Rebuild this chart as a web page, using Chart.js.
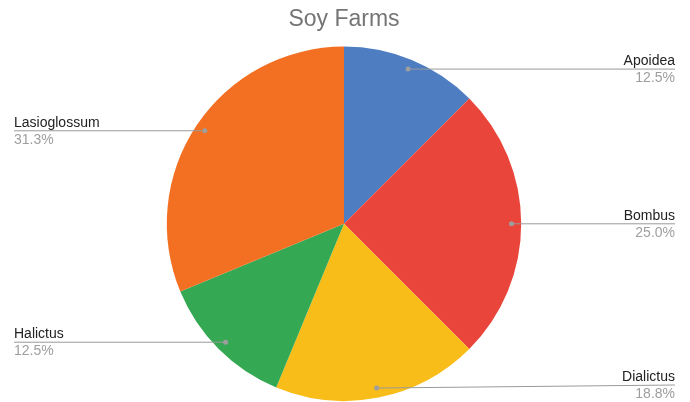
<!DOCTYPE html>
<html>
<head>
<meta charset="utf-8">
<script src="https://cdn.jsdelivr.net/npm/chart.js@4.4.1/dist/chart.umd.min.js"></script>
<style>
  html, body { margin: 0; padding: 0; background: #fff; }
  #wrap { width: 690px; height: 402px; }
</style>
</head>
<body>
<div id="wrap"><canvas id="myChart"></canvas></div>
<script>
const categories = ["Apoidea", "Bombus", "Dialictus", "Halictus", "Lasioglossum"];
const counts = [2, 4, 3, 2, 5];
const sliceColors = ["#4f7dc2", "#e9453a", "#f8bd19", "#34a853", "#f37023"];

let total = counts.reduce((a, b) => a + b, 0);

// leader lines + labels, google sheets style
let sideLabels = {
    id: "sideLabels",
    afterDatasetsDraw(chart) {
        let ctx = chart.ctx;
        let meta = chart.getDatasetMeta(0);
        let W = chart.width, H = chart.height;
        ctx.save();
        meta.data.forEach((arc, i) => {
            let p = arc.getProps(["x", "y", "startAngle", "endAngle", "outerRadius"], true);
            let mid = (p.startAngle + p.endAngle) / 2;
            let r = p.outerRadius * 0.945;
            let dx = p.x + Math.cos(mid) * r;
            let dy = p.y + Math.sin(mid) * r;
            let right = Math.cos(mid) >= 0;
            let endX = right ? 675 : 14;
            let endY = Math.min(dy, H - 17);

            ctx.strokeStyle = "#9a9a9a";
            ctx.lineWidth = 1;
            ctx.beginPath();
            ctx.moveTo(dx, dy);
            ctx.lineTo(endX, endY);
            ctx.stroke();

            ctx.fillStyle = "#9e9e9e";
            ctx.beginPath();
            ctx.arc(dx, dy, 2.5, 0, Math.PI * 2);
            ctx.fill();

            ctx.font = "14px 'Liberation Sans', Arial, sans-serif";
            ctx.textAlign = right ? "right" : "left";
            ctx.textBaseline = "alphabetic";
            ctx.fillStyle = "#222222";
            ctx.fillText(categories[i], endX, endY - 4);
            ctx.fillStyle = "#9e9e9e";
            ctx.fillText((counts[i] / total * 100).toFixed(1) + "%", endX, endY + 13);
        });
        ctx.restore();
    }
};

new Chart("myChart", {
    type: "pie",
    data: {
        labels: categories,
        datasets: [{
            data: counts,
            backgroundColor: sliceColors,
            borderWidth: 0
        }]
    },
    options: {
        responsive: true,
        maintainAspectRatio: false,
        animation: false,
        layout: { padding: { top: 0, bottom: 1, left: 0, right: 2 } },
        plugins: {
            legend: { display: false },
            tooltip: { enabled: false },
            title: {
                display: true,
                text: "Soy Farms",
                color: "#757575",
                font: { family: "'Liberation Sans', Arial, sans-serif", size: 23, weight: "normal" },
                padding: { top: 6, bottom: 13 }
            }
        }
    },
    plugins: [sideLabels]
});
</script>
</body>
</html>
